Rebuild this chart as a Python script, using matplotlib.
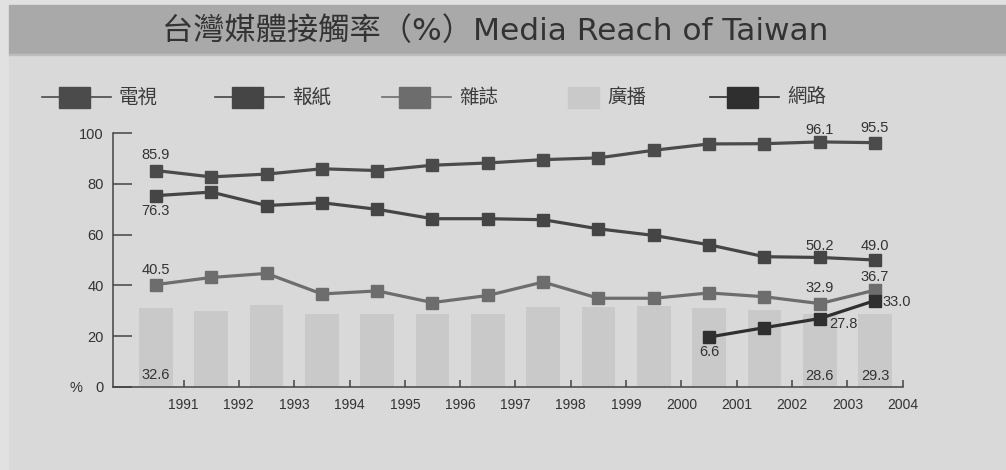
import matplotlib.pyplot as plt
from matplotlib.patches import Rectangle
from matplotlib.lines import Line2D
import numpy as np

# Данные
years = ['1991', '1992', '1993', '1994', '1995', '1996', '1997',
         '1998', '1999', '2000', '2001', '2002', '2003', '2004']
tv = [85.3, 82.8, 83.9, 86.0, 85.3, 87.4, 88.3, 89.6, 90.3, 93.3, 95.8, 95.9, 96.6, 96.3]
newspaper = [75.4, 76.8, 71.5, 72.6, 70.0, 66.3, 66.3, 65.9, 62.3, 59.7, 56.0, 51.3, 51.0, 50.0]
magazine = [40.3, 43.1, 44.7, 36.6, 37.8, 33.2, 36.0, 41.3, 34.9, 34.9, 37.0, 35.5, 32.8, 38.1]
radio = [31.2, 30.0, 32.3, 28.6, 28.6, 28.6, 28.6, 31.5, 31.4, 31.8, 31.2, 30.2, 28.7, 28.7]
internet = [19.6, 23.3, 26.9, 34.0]          # с 2001 по 2004
internet_start = 10

series_names = ['電視', '報紙', '雜誌', '廣播', '網路']
yticks = [0, 20, 40, 60, 80, 100]

bg_outer = '#e1e1e1'
bg_panel = '#d9d9d9'
c_tv, c_news, c_mag, c_radio, c_net = '#4b4b4b', '#454545', '#6d6d6d', '#c9c9c9', '#2f2f2f'

W, H = 1006, 470
fig = plt.figure(figsize=(W / 100, H / 100), dpi=100)
fig.patch.set_facecolor(bg_outer)

def fx(px):
    return px / W

def fy(py):
    return 1 - py / H

# Фон панели и полоса заголовка
fig.patches.append(Rectangle((fx(9), 0), 1, fy(53), transform=fig.transFigure,
                             color=bg_panel, zorder=-10))
fig.patches.append(Rectangle((fx(9), fy(53.5)), 1, fy(5.5) - fy(53.5),
                             transform=fig.transFigure, color='#a9a9a9', zorder=-10))
fig.patches.append(Rectangle((fx(9), fy(55)), 1, fy(53.5) - fy(55),
                             transform=fig.transFigure, color='#bebebe', zorder=-10))
fig.text(fx(495), fy(31), '台灣媒體接觸率（%）Media Reach of Taiwan', ha='center',
         va='center', fontsize=22.5, color='#333333',
         family=['DejaVu Sans', 'Noto Sans CJK TC'])

# Легенда рисуется вручную
leg_y = fy(97)
legend_items = [(42, c_tv, True), (215, c_news, True), (382, c_mag, True),
                (568, c_radio, False), (710, c_net, True)]
for (x0, col, has_line), name in zip(legend_items, series_names):
    if has_line:
        fig.add_artist(Line2D([fx(x0), fx(x0 + 69)], [leg_y, leg_y], color=col,
                              lw=1.2, transform=fig.transFigure))
        sx = x0 + 17
        tx = x0 + 77
    else:
        sx = x0
        tx = x0 + 39
    fig.patches.append(Rectangle((fx(sx), fy(107.5)), fx(31), 21 / H,
                                 transform=fig.transFigure, color=col, zorder=2))
    fig.text(fx(tx), leg_y, name, ha='left', va='center', fontsize=14,
             color='#3a3a3a', family=['Noto Sans CJK TC'])

ax = fig.add_axes([fx(113.3), fy(386.7), fx(902.7) - fx(113.3), fy(133.3) - fy(386.7)])
ax.set_facecolor('none')

x = np.arange(len(years))
ax.bar(x, radio, width=0.61, color=c_radio, zorder=1)

ax.plot(x, tv, color=c_tv, lw=2.3, marker='s', ms=8, zorder=3)
ax.plot(x, newspaper, color=c_news, lw=2.3, marker='s', ms=8, zorder=3)
ax.plot(x, magazine, color=c_mag, lw=2.3, marker='s', ms=8, zorder=3)
x_net = x[internet_start:]
ax.plot(x_net, internet, color=c_net, lw=2.3, marker='s', ms=8, zorder=4)

ax.set_xlim(-0.77, len(years) - 0.5)
ax.set_ylim(0, 100)
ax.set_xticks(x + 0.5)
ax.set_xticklabels(years)
ax.set_yticks(yticks)
ax.tick_params(axis='y', direction='in', length=14, width=1.1, color='#444444',
               labelsize=10.5, pad=7, labelcolor='#333333')
ax.tick_params(axis='x', direction='in', length=5, width=1.1, color='#444444',
               labelsize=10, pad=8, labelcolor='#333333')
for lab in ax.get_xticklabels() + ax.get_yticklabels():
    lab.set_family('Liberation Sans')
for s in ['top', 'right']:
    ax.spines[s].set_visible(False)
for s in ['left', 'bottom']:
    ax.spines[s].set_color('#444444')
    ax.spines[s].set_linewidth(1.1)

fig.text(fx(76), fy(388), '%', ha='center', va='center', fontsize=10.5,
         color='#333333', family='Liberation Sans')

# Подписи значений
def note(text, xi, yv, dx, dy):
    ax.annotate(text, (xi, yv), xytext=(dx, dy), textcoords='offset points',
                ha='center', va='center', fontsize=10.5, color='#333333',
                family='Liberation Sans', zorder=5)

note('85.9', 0, tv[0], 0, 11)
note('76.3', 0, newspaper[0], 0, -10.8)
note('40.5', 0, magazine[0], 0, 10.6)
note('32.6', 0, 0, 0, 8.4)
note('96.1', 12, tv[12], 0, 8.9)
note('95.5', 13, tv[13], 0, 10.8)
note('50.2', 12, newspaper[12], 0, 8.4)
note('49.0', 13, newspaper[13], 0, 10.3)
note('32.9', 12, magazine[12], 0, 11.5)
note('36.7', 13, magazine[13], 0, 9.8)
note('6.6', 10, internet[0], 0, -10.6)
note('27.8', 12, internet[2], 16.8, -3.8)
note('33.0', 13, internet[3], 15.8, -1.4)
note('28.6', 12, 0, 0, 7.7)
note('29.3', 13, 0, 0, 7.7)

plt.savefig('out.png', dpi=100, facecolor=fig.get_facecolor())
